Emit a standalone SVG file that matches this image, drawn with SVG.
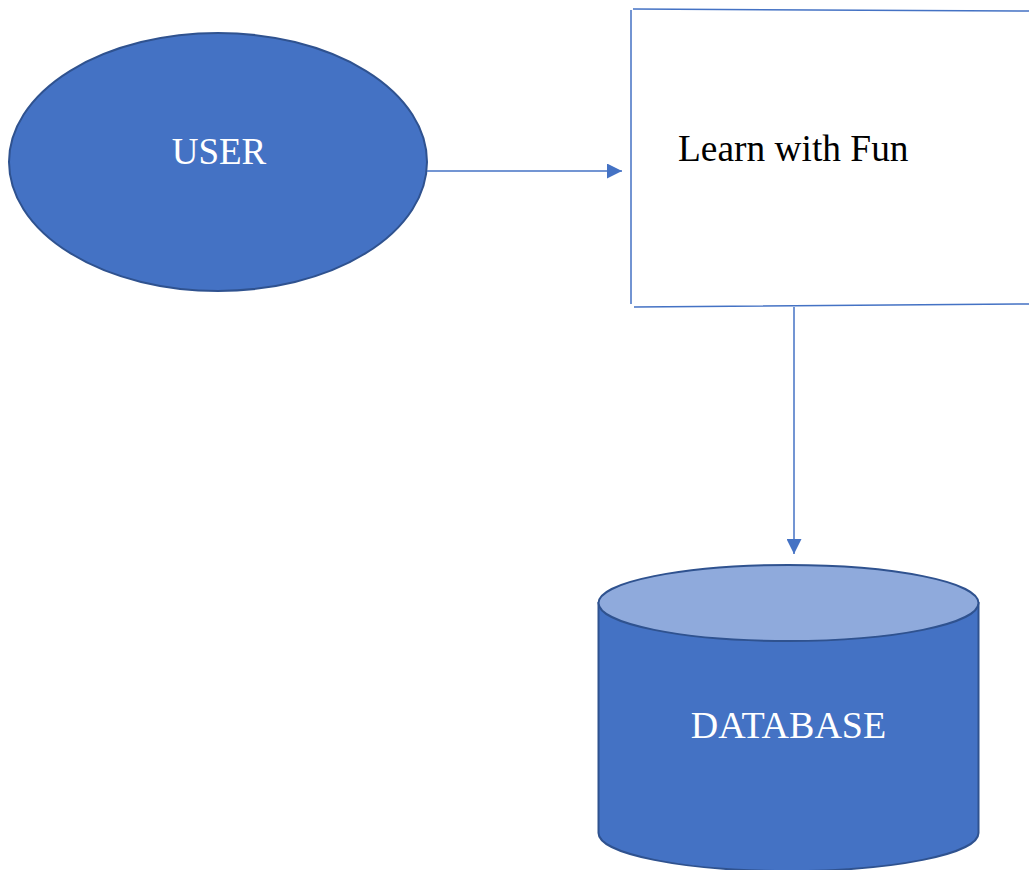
<svg xmlns="http://www.w3.org/2000/svg" width="1029" height="870" viewBox="0 0 1029 870">
<style>
.shape{fill:#4472C4;stroke:#2F528F;stroke-width:2}
.top{fill:#8FAADC;stroke:#2F528F;stroke-width:2}
.lbl{font-family:"Liberation Serif","Times New Roman",serif;font-size:37px}
.w{fill:#FFFFFF}
.k{fill:#000000}
.conn{stroke:#4472C4;stroke-width:1.5;fill:none}
.edge{stroke:#4472C4;stroke-width:1.5;fill:none}
</style>
<defs>
<marker id="arrL" viewBox="0 0 10 10" refX="10" refY="5" markerWidth="15" markerHeight="15" markerUnits="userSpaceOnUse" orient="auto">
<path d="M0,0 L10,5 L0,10 Z" fill="#4472C4"/>
</marker>
</defs>
<rect width="1029" height="870" fill="#FFFFFF"/>
<g id="user">
<ellipse class="shape" cx="218" cy="162" rx="209" ry="129"/>
<text class="lbl w" x="219" y="164" text-anchor="middle">USER</text>
</g>
<g id="learn">
<rect x="632" y="10" width="400" height="296" fill="#FFFFFF" stroke="none"/>
<path class="edge" d="M633,9 L1029,11 M631,10 L631,304 M634,307 L1029,304"/>
<text class="lbl k" x="678" y="161" style="font-size:37.4px">Learn with Fun</text>
</g>
<g id="database">
<path class="shape" d="M598.5,603 L598.5,833 A190,38 0 0 0 978.5,833 L978.5,603 Z"/>
<ellipse class="top" cx="788.5" cy="603" rx="190" ry="38"/>
<text class="lbl w" x="788.5" y="738" text-anchor="middle" style="font-size:38px">DATABASE</text>
</g>
<g id="connectors">
<line class="conn" x1="427" y1="171" x2="622" y2="171" marker-end="url(#arrL)"/>
<line class="conn" x1="794" y1="307" x2="794" y2="554" marker-end="url(#arrL)"/>
</g>
</svg>
